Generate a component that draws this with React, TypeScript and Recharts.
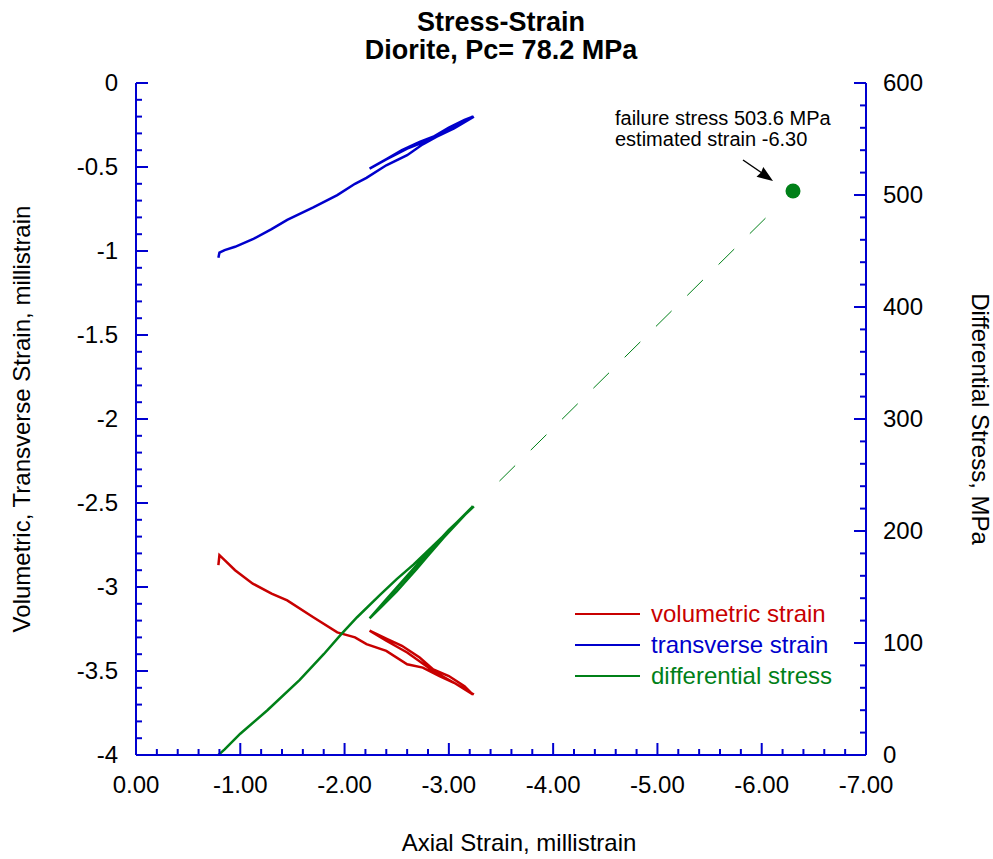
import React from "react";
import { ComposedChart, Line, Scatter, XAxis, YAxis } from "recharts";

// axial strain (millistrain) vs transverse strain (millistrain): load, unload, reload
const transverseStrain = [
  { x: -0.79, y: -1.04 }, { x: -0.8, y: -1.01 }, { x: -0.85, y: -0.995 }, { x: -0.95, y: -0.975 },
  { x: -1.12, y: -0.93 }, { x: -1.3, y: -0.87 }, { x: -1.45, y: -0.815 }, { x: -1.7, y: -0.74 },
  { x: -1.93, y: -0.667 }, { x: -2.1, y: -0.6 }, { x: -2.21, y: -0.565 }, { x: -2.4, y: -0.49 },
  { x: -2.6, y: -0.43 }, { x: -2.75, y: -0.365 }, { x: -2.91, y: -0.31 }, { x: -3.05, y: -0.26 },
  { x: -3.23, y: -0.2 },
  { x: -3.15, y: -0.22 }, { x: -3.0, y: -0.265 }, { x: -2.85, y: -0.32 }, { x: -2.72, y: -0.35 },
  { x: -2.55, y: -0.4 }, { x: -2.41, y: -0.45 }, { x: -2.24, y: -0.51 },
  { x: -2.4, y: -0.455 }, { x: -2.6, y: -0.39 }, { x: -2.85, y: -0.33 }, { x: -3.05, y: -0.27 },
  { x: -3.24, y: -0.2 },
];

const volumetricStrain = [
  { x: -0.79, y: -2.87 }, { x: -0.8, y: -2.81 }, { x: -0.85, y: -2.84 }, { x: -0.95, y: -2.9 },
  { x: -1.12, y: -2.98 }, { x: -1.3, y: -3.04 }, { x: -1.45, y: -3.08 }, { x: -1.7, y: -3.18 },
  { x: -1.93, y: -3.27 }, { x: -2.1, y: -3.3 }, { x: -2.21, y: -3.34 }, { x: -2.4, y: -3.38 },
  { x: -2.6, y: -3.46 }, { x: -2.75, y: -3.48 }, { x: -2.91, y: -3.53 }, { x: -3.05, y: -3.57 },
  { x: -3.23, y: -3.64 },
  { x: -3.15, y: -3.59 }, { x: -3.0, y: -3.53 }, { x: -2.85, y: -3.49 }, { x: -2.72, y: -3.42 },
  { x: -2.55, y: -3.35 }, { x: -2.41, y: -3.31 }, { x: -2.24, y: -3.26 },
  { x: -2.4, y: -3.32 }, { x: -2.6, y: -3.39 }, { x: -2.85, y: -3.5 }, { x: -3.05, y: -3.57 },
  { x: -3.24, y: -3.64 },
];

// differential stress in MPa
const differentialStress = [
  { x: -0.79, y: 0 }, { x: -0.85, y: 5 }, { x: -1.0, y: 19 }, { x: -1.26, y: 40 },
  { x: -1.57, y: 67 }, { x: -1.8, y: 90 }, { x: -1.96, y: 107 }, { x: -2.12, y: 123 },
  { x: -2.34, y: 143 }, { x: -2.5, y: 157 }, { x: -2.66, y: 170 }, { x: -2.94, y: 195 },
  { x: -3.23, y: 222 },
  { x: -3.1, y: 209 }, { x: -2.95, y: 194 }, { x: -2.8, y: 178 }, { x: -2.69, y: 166 },
  { x: -2.5, y: 146 }, { x: -2.35, y: 132 }, { x: -2.24, y: 122 },
  { x: -2.4, y: 139 }, { x: -2.6, y: 160 }, { x: -2.8, y: 181 }, { x: -3.0, y: 201 },
  { x: -3.24, y: 222 },
];

const extrapolation = [{ x: -3.24, y: 222 }, { x: -6.3, y: 503.6 }];
const failurePoint = [{ x: -6.3, y: 503.6 }];

const xMajorTicks = [0, -1, -2, -3, -4, -5, -6, -7];
const leftMajorTicks = [0, -0.5, -1, -1.5, -2, -2.5, -3, -3.5, -4];
const rightMajorTicks = [0, 100, 200, 300, 400, 500, 600];

const AXIS = "#0000d0";
const RED = "#c80000";
const BLUE = "#0000cc";
const GREEN = "#008018";
const FONT = "'Liberation Sans', Arial, sans-serif";

// leading gap, nine dashes, then a gap up to the failure point
const extrapolationDash = ["0 36", ...Array(9).fill("22 22"), "0 60"].join(" ");

function steps(from: number, to: number, step: number) {
  const out: number[] = [];
  const n = Math.round((to - from) / step);
  for (let i = 0; i <= n; i++) out.push(Math.round((from + i * step) * 1000) / 1000);
  return out;
}

const xTicks = steps(-7, 0, 0.2);
const leftTicks = steps(-4, 0, 0.1);
const rightTicks = steps(0, 600, 20);

const isMajor = (v: number, majors: number[]) => majors.some((m) => Math.abs(m - v) < 1e-6);

function BottomTick(props: any) {
  const { x, y, payload } = props;
  const major = isMajor(payload.value, xMajorTicks);
  return (
    <g>
      <line x1={x} y1={y} x2={x} y2={y - (major ? 12 : 6)} stroke={AXIS} strokeWidth={2} />
      {major && (
        <text x={x} y={y + 30} dy="0.35em" textAnchor="middle" fontSize={24} fontFamily={FONT} fill="#000">
          {payload.value === 0 ? "0.00" : payload.value.toFixed(2)}
        </text>
      )}
    </g>
  );
}

function TopTick(props: any) {
  const { x, y, payload } = props;
  const major = isMajor(payload.value, xMajorTicks);
  return <line x1={x} y1={y} x2={x} y2={y + (major ? 12 : 6)} stroke={AXIS} strokeWidth={2} />;
}

function LeftTick(props: any) {
  const { x, y, payload } = props;
  const major = isMajor(payload.value, leftMajorTicks);
  return (
    <g>
      <line x1={x} y1={y} x2={x + (major ? 12 : 6)} y2={y} stroke={AXIS} strokeWidth={2} />
      {major && (
        <text x={x - 18} y={y} dy="0.35em" textAnchor="end" fontSize={24} fontFamily={FONT} fill="#000">
          {String(payload.value)}
        </text>
      )}
    </g>
  );
}

function RightTick(props: any) {
  const { x, y, payload } = props;
  const major = isMajor(payload.value, rightMajorTicks);
  return (
    <g>
      <line x1={x} y1={y} x2={x - (major ? 12 : 6)} y2={y} stroke={AXIS} strokeWidth={2} />
      {major && (
        <text x={x + 17} y={y} dy="0.35em" textAnchor="start" fontSize={24} fontFamily={FONT} fill="#000">
          {String(payload.value)}
        </text>
      )}
    </g>
  );
}

const text: React.CSSProperties = {
  position: "absolute",
  fontFamily: FONT,
  whiteSpace: "nowrap",
  color: "#000",
};

const legend = [
  { name: "volumetric strain", color: RED, top: 614 },
  { name: "transverse strain", color: BLUE, top: 645 },
  { name: "differential stress", color: GREEN, top: 676 },
];

export default function App() {
  return (
    <div style={{ position: "absolute", left: 0, top: 0, width: 993, height: 859, background: "#fff" }}>
      <ComposedChart
        width={993}
        height={859}
        margin={{ top: 83, right: 0, bottom: 0, left: 0 }}
      >
        <XAxis
          xAxisId="bottom"
          dataKey="x"
          type="number"
          domain={[-7, 0]}
          reversed
          allowDataOverflow
          ticks={xTicks}
          interval={0}
          height={104}
          tickSize={0}
          tickMargin={0}
          tickLine={false}
          axisLine={{ stroke: AXIS, strokeWidth: 2 }}
          tick={BottomTick}
        />
        <XAxis
          xAxisId="top"
          orientation="top"
          dataKey="x"
          type="number"
          domain={[-7, 0]}
          reversed
          allowDataOverflow
          ticks={xTicks}
          interval={0}
          height={0}
          tickSize={0}
          tickMargin={0}
          tickLine={false}
          axisLine={{ stroke: AXIS, strokeWidth: 2 }}
          tick={TopTick}
        />
        <YAxis
          yAxisId="left"
          dataKey="y"
          type="number"
          domain={[-4, 0]}
          allowDataOverflow
          ticks={leftTicks}
          interval={0}
          width={136}
          tickSize={0}
          tickMargin={0}
          tickLine={false}
          axisLine={{ stroke: AXIS, strokeWidth: 2 }}
          tick={LeftTick}
        />
        <YAxis
          yAxisId="right"
          orientation="right"
          dataKey="y"
          type="number"
          domain={[0, 600]}
          allowDataOverflow
          ticks={rightTicks}
          interval={0}
          width={127}
          tickSize={0}
          tickMargin={0}
          tickLine={false}
          axisLine={{ stroke: AXIS, strokeWidth: 2 }}
          tick={RightTick}
        />
        <Line
          data={extrapolation}
          xAxisId="bottom"
          yAxisId="right"
          dataKey="y"
          type="linear"
          stroke={GREEN}
          strokeWidth={1}
          strokeDasharray={extrapolationDash}
          dot={false}
          isAnimationActive={false}
        />
        <Line
          data={volumetricStrain}
          xAxisId="bottom"
          yAxisId="left"
          dataKey="y"
          type="linear"
          stroke={RED}
          strokeWidth={2.5}
          dot={false}
          isAnimationActive={false}
        />
        <Line
          data={transverseStrain}
          xAxisId="bottom"
          yAxisId="left"
          dataKey="y"
          type="linear"
          stroke={BLUE}
          strokeWidth={2.5}
          dot={false}
          isAnimationActive={false}
        />
        <Line
          data={differentialStress}
          xAxisId="bottom"
          yAxisId="right"
          dataKey="y"
          type="linear"
          stroke={GREEN}
          strokeWidth={2.5}
          dot={false}
          isAnimationActive={false}
        />
        <Scatter
          data={failurePoint}
          xAxisId="bottom"
          yAxisId="right"
          dataKey="y"
          fill={GREEN}
          isAnimationActive={false}
          shape={(p: any) => <circle cx={p.cx} cy={p.cy} r={7.5} fill={GREEN} />}
        />
      </ComposedChart>

      <div style={{ ...text, left: 501, top: 7, transform: "translateX(-50%)", fontSize: 27, fontWeight: "bold", lineHeight: "30px" }}>
        Stress-Strain
      </div>
      <div style={{ ...text, left: 501, top: 35, transform: "translateX(-50%)", fontSize: 27, fontWeight: "bold", lineHeight: "30px" }}>
        Diorite, Pc= 78.2 MPa
      </div>
      <div style={{ ...text, left: 519, top: 829, transform: "translateX(-50%)", fontSize: 24, lineHeight: "28px" }}>
        Axial Strain, millistrain
      </div>
      <div style={{ ...text, left: 22, top: 419, transform: "translate(-50%, -50%) rotate(-90deg)", fontSize: 24, lineHeight: "28px" }}>
        Volumetric, Transverse Strain, millistrain
      </div>
      <div style={{ ...text, left: 980, top: 419, transform: "translate(-50%, -50%) rotate(90deg)", fontSize: 24, lineHeight: "28px" }}>
        Differential Stress, MPa
      </div>

      <div style={{ ...text, left: 615, top: 108, fontSize: 20, lineHeight: "21px" }}>
        failure stress 503.6 MPa
        <br />
        estimated strain -6.30
      </div>
      <svg style={{ position: "absolute", left: 0, top: 0 }} width={993} height={859} pointerEvents="none">
        <line x1={743} y1={160} x2={762} y2={173} stroke="#000" strokeWidth={1.5} />
        <polygon points="773,181 763.3,166.9 761,172.5 756.5,176.7" fill="#000" />
      </svg>

      {legend.map((l) => (
        <React.Fragment key={l.name}>
          <div style={{ position: "absolute", left: 575, top: l.top - 1, width: 65, height: 2, background: l.color }} />
          <div style={{ ...text, left: 651, top: l.top - 14, fontSize: 24, lineHeight: "28px", color: l.color }}>
            {l.name}
          </div>
        </React.Fragment>
      ))}
    </div>
  );
}
